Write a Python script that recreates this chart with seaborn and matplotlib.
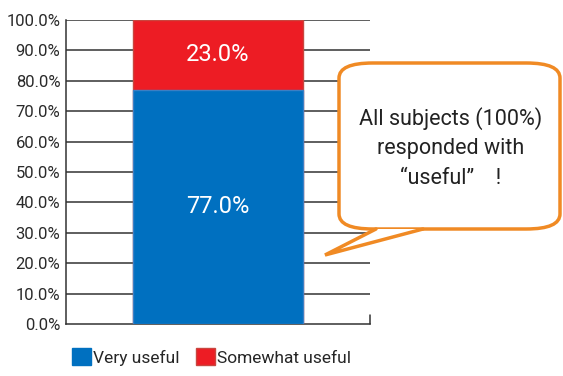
import matplotlib
matplotlib.use("Agg")
import matplotlib.pyplot as plt
import seaborn as sns
import pandas as pd
from matplotlib.patches import FancyBboxPatch, Polygon, Patch
from matplotlib.lines import Line2D

categories = ["All"]
very_useful = [77.0]
somewhat_useful = [23.0]
series_names = ["Very useful", "Somewhat useful"]
yticks = [0, 10, 20, 30, 40, 50, 60, 70, 80, 90, 100]
callout_text = "All subjects (100%)\nresponded with\n\u201cuseful\u201d\u3000!"

BLUE = "#0070C0"
RED = "#ED1C24"
ORANGE = "#F08A24"
GRID = "#333333"

sns.set_theme(style="white")
plt.rcParams["font.family"] = ["Liberation Sans Narrow", "Roboto", "DejaVu Sans", "Noto Sans CJK JP"]

W, H = 563, 376
fig = plt.figure(figsize=(W / 100, H / 100), dpi=100)
ax = fig.add_axes([66 / W, 1 - 324 / H, (370 - 66) / W, (324 - 20) / H])

df = pd.DataFrame({"cat": categories,
                   "total": [v + s for v, s in zip(very_useful, somewhat_useful)],
                   "very": very_useful,
                   "some": somewhat_useful})

sns.barplot(data=df, x="cat", y="total", color=RED, saturation=1, width=0.56,
            edgecolor="#c9463f", linewidth=1, ax=ax, zorder=3)
sns.barplot(data=df, x="cat", y="very", color=BLUE, saturation=1, width=0.56,
            edgecolor="#3b7fc4", linewidth=1, ax=ax, zorder=4)

ax.set_xlim(-0.5, 0.5)
ax.set_ylim(0, 100)
ax.set_yticks(yticks)
ax.set_yticklabels([f"{t:.1f}%" for t in yticks], fontsize=12, color="#2a2a2a")
ax.set_xticks([])
ax.set_xlabel("")
ax.set_ylabel("")
ax.tick_params(axis="y", length=0, pad=4)
for t in yticks[1:]:
    ax.axhline(t, color=GRID, lw=1.1, zorder=1)
for s in ["top", "right"]:
    ax.spines[s].set_visible(False)
for s in ["left", "bottom"]:
    ax.spines[s].set_color(GRID)
    ax.spines[s].set_linewidth(1.1)
ax.plot([1, 1], [0, 0.03], transform=ax.transAxes, color=GRID, lw=1.1, clip_on=False)

# bar labels
ax.text(0, very_useful[0] / 2, f"{very_useful[0]:.1f}%", ha="center", va="center",
        color="white", fontsize=17, zorder=5)
ax.text(0, very_useful[0] + somewhat_useful[0] / 2, f"{somewhat_useful[0]:.1f}%",
        ha="center", va="center", color="white", fontsize=17, zorder=5)

# legend
handles = [Patch(facecolor=BLUE, edgecolor=BLUE), Patch(facecolor=RED, edgecolor="#c9463f")]
fig.legend(handles, series_names, loc="center left", bbox_to_anchor=(63 / W, 1 - 357 / H),
           ncol=2, frameon=False, fontsize=12.5, handlelength=1.1, handleheight=1.1,
           handletextpad=0.1, columnspacing=1.0, borderpad=0)

# callout
def fx(x):
    return x / W

def fy(y):
    return 1 - y / H

box = FancyBboxPatch((fx(339), fy(229)), fx(560) - fx(339), fy(63) - fy(229),
                     boxstyle="round,pad=0,rounding_size=0.06",
                     transform=fig.transFigure, facecolor="white", edgecolor=ORANGE,
                     linewidth=2.5, zorder=10, mutation_aspect=H / W)
fig.patches.append(box)
tail = Polygon([(fx(376), fy(229)), (fx(325), fy(255)), (fx(423), fy(229))],
               closed=True, transform=fig.transFigure, facecolor="white",
               edgecolor="none", zorder=11)
fig.patches.append(tail)
fig.lines.append(Line2D([fx(376), fx(325), fx(423)], [fy(229), fy(255), fy(229)],
                        transform=fig.transFigure, color=ORANGE, lw=2.5, zorder=12,
                        solid_joinstyle="miter"))
fig.text(fx(451), fy(148), callout_text, ha="center", va="center", fontsize=15.5,
         color="#222222", linespacing=1.55, zorder=13)

fig.savefig("out.png", dpi=100)
